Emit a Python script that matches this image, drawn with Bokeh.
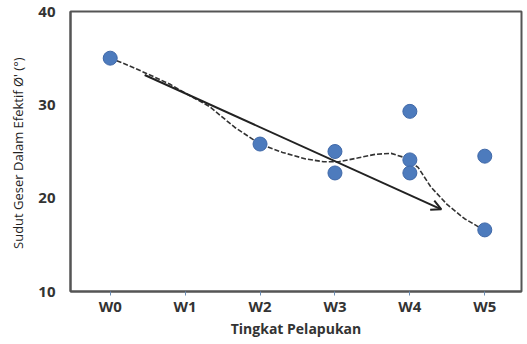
from bokeh.plotting import figure
from bokeh.models import Range1d, FixedTicker, Arrow, OpenHead
from bokeh.embed import file_html
from bokeh.resources import INLINE

categories = ["W0", "W1", "W2", "W3", "W4", "W5"]

# measured points
pt_cat = ["W0", "W2", "W3", "W3", "W4", "W4", "W4", "W5", "W5"]
pt_val = [35.0, 25.8, 25.0, 22.7, 29.3, 24.1, 22.7, 24.5, 16.6]

# dashed trend curve
curve_x = [0.0, 0.25, 0.53, 0.8, 1.06, 1.33, 1.66, 2.0, 2.3, 2.61, 2.85, 3.05, 3.3, 3.54, 3.75, 3.91, 4.11, 4.28, 4.5, 4.73, 4.9, 5.04]
curve_y = [35.0, 34.2, 33.2, 32.2, 31.0, 29.8, 27.6, 25.8, 24.9, 24.2, 23.9, 23.9, 24.3, 24.7, 24.8, 24.4, 23.3, 21.2, 19.3, 17.8, 17.0, 16.6]

# solid arrow (start, end)
arrow_x = [0.46, 4.42]
arrow_y = [33.2, 18.8]

xs = [categories.index(c) for c in pt_cat]

p = figure(width=525, height=342, output_backend="svg", toolbar_location=None,
           x_range=Range1d(-0.53, 5.49), y_range=Range1d(10, 40),
           min_border_left=70, min_border_right=4, min_border_top=11, min_border_bottom=51)

p.grid.visible = False
p.outline_line_color = "#555555"
p.outline_line_width = 2

p.line(curve_x, curve_y, line_color="#333333", line_width=1.6, line_dash="5 2")
p.add_layout(Arrow(end=OpenHead(size=10, line_width=2, line_color="#222222"),
                   x_start=arrow_x[0], y_start=arrow_y[0], x_end=arrow_x[1], y_end=arrow_y[1],
                   line_color="#222222", line_width=2))
p.scatter(xs, pt_val, size=14, fill_color="#4d7bbd", line_color="#3f68a8", line_width=1)

p.xaxis.ticker = FixedTicker(ticks=list(range(len(categories))))
p.xaxis.major_label_overrides = {i: c for i, c in enumerate(categories)}
p.yaxis.ticker = FixedTicker(ticks=[10, 20, 30, 40])

for ax in (p.xaxis[0], p.yaxis[0]):
    ax.axis_line_color = "#555555"
    ax.axis_line_width = 2
    ax.minor_tick_line_color = None
    ax.major_label_text_font = "Open Sans"
    ax.major_label_text_font_style = "bold"
    ax.major_label_text_font_size = "15px"
    ax.major_label_text_color = "#333333"
    ax.axis_label_text_font = "Open Sans"

p.xaxis.major_tick_line_color = "#6a8cb5"
p.xaxis.major_tick_in = 0
p.xaxis.major_tick_out = 4
p.xaxis.major_label_standoff = 0
p.xaxis.axis_label = "Tingkat Pelapukan"
p.xaxis.axis_label_text_font_size = "14px"
p.xaxis.axis_label_text_font_style = "bold"
p.xaxis.axis_label_text_color = "#333333"
p.xaxis.axis_label_standoff = 0

p.yaxis.major_tick_line_color = None
p.yaxis.major_tick_out = 0
p.yaxis.major_tick_in = 0
p.yaxis.major_label_standoff = 15
p.yaxis.axis_label = "Sudut Geser Dalam Efektif  Ø' (°)"
p.yaxis.axis_label_text_font_size = "13px"
p.yaxis.axis_label_text_font_style = "normal"
p.yaxis.axis_label_text_color = "#222222"
p.yaxis.axis_label_standoff = 8

open("out.html", "w").write(file_html(p, INLINE))
